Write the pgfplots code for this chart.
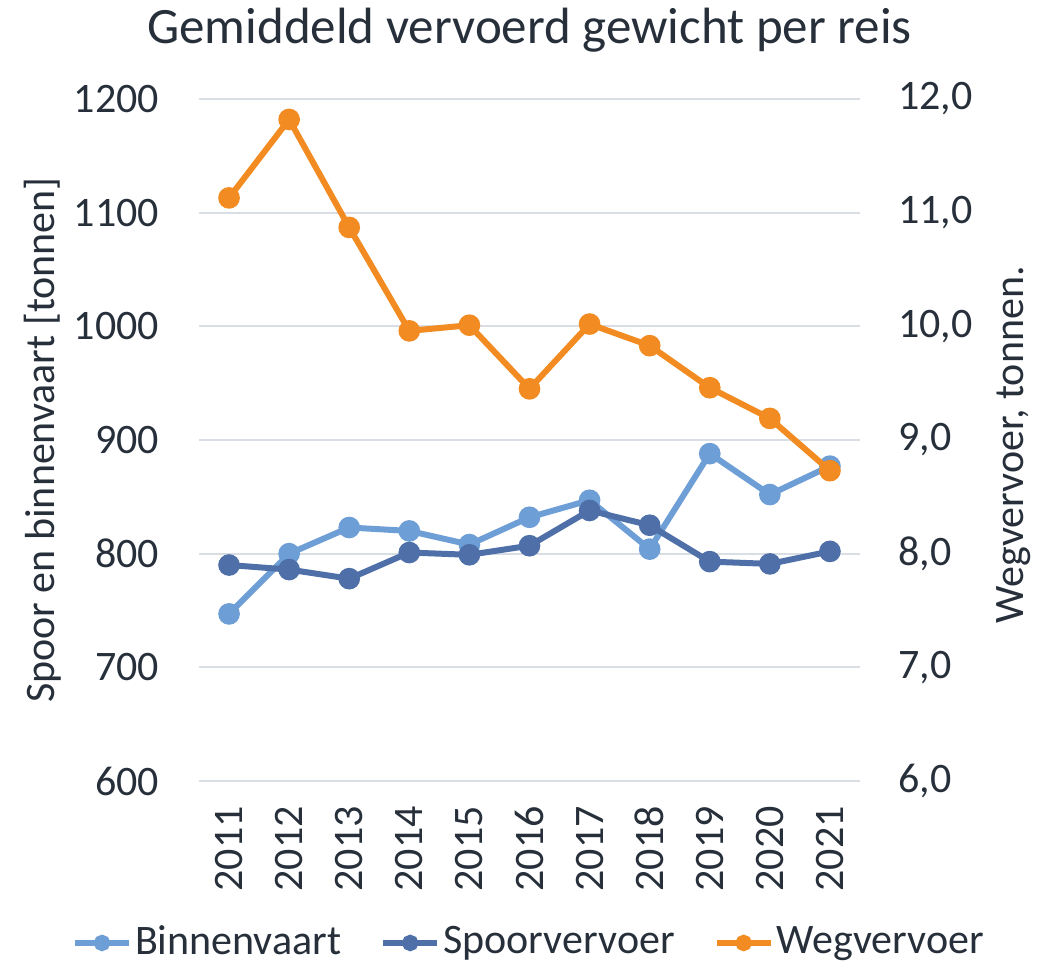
\documentclass[border=0pt]{standalone}
\usepackage{pgfplots}
\pgfplotsset{compat=1.18}
\usepackage{fontspec}
\setmainfont{Carlito}
\definecolor{lb}{HTML}{6E9ED6}
\definecolor{db}{HTML}{4E6FA8}
\definecolor{org}{HTML}{F28C22}
\definecolor{txt}{HTML}{262F3A}
\definecolor{grd}{HTML}{D9DEE4}
\pgfplotsset{
  common/.style={
    scale only axis, width=330.5pt, height=341pt,
    xmin=2010.5, xmax=2021.5,
    axis line style={draw=none}, major tick length=0pt,
    /pgf/number format/assume math mode=true,
    /pgf/number format/1000 sep={},
    tick label style={font=\fontsize{21}{25}\selectfont, text=txt},
    label style={font=\fontsize{21}{25}\selectfont, text=txt},
  },
  ser/.style={line width=3pt, mark=*, mark size=3.9pt, mark options={solid}},
}
\begin{document}
\fontsize{21}{25}\selectfont
\begin{tikzpicture}
\begin{axis}[common, name=ax,
  ymin=600, ymax=1200, ytick={600,700,...,1200},
  xtick={2011,...,2021},
  xticklabel style={yshift=-5.5pt, rotate=90, anchor=east},
  yticklabel style={xshift=-12.8pt},
  ymajorgrids, grid style={grd, line width=1pt},
  ylabel={Spoor en binnenvaart [tonnen]},
  ylabel style={at={(axis description cs:-0.237,0.5)}, anchor=center},
  title={Gemiddeld vervoerd gewicht per reis},
  title style={font=\fontsize{25.5}{30}\selectfont, text=txt, at={(0.5,1)}, anchor=base, yshift=22pt},
  legend style={at={(0.5,-0.2375)}, anchor=center, draw=none, legend columns=3,
    font=\fontsize{21}{25}\selectfont, text=txt,
    nodes={inner xsep=1.5pt},
    /tikz/every even column/.append style={column sep=18pt}},
  legend cell align=left,
  legend image code/.code={\draw[#1, mark size=2.6pt, mark repeat=2, mark phase=2] plot coordinates {(0pt,0pt) (13.5pt,0pt) (27pt,0pt)};},
]
\addplot[ser, color=lb] coordinates {
(2011,747) (2012,800) (2013,823) (2014,820) (2015,808) (2016,832) (2017,847) (2018,804) (2019,888) (2020,852) (2021,877)};
\addlegendentry{Binnenvaart}
\addplot[ser, color=db] coordinates {
(2011,790) (2012,786) (2013,778) (2014,801) (2015,799) (2016,807) (2017,838) (2018,825) (2019,793) (2020,791) (2021,802)};
\addlegendentry{Spoorvervoer}
\addlegendimage{ser, color=org}
\addlegendentry{Wegvervoer}
\end{axis}
\begin{axis}[common,
  ymin=6, ymax=12, ytick={6,7,...,12},
  axis y line*=right, axis x line=none,
  yticklabel style={xshift=12pt, /pgf/number format/.cd, fixed, fixed zerofill, precision=1, use comma},
  ylabel={Wegvervoer, tonnen.},
  ylabel style={at={(axis description cs:1.233,0.4927)}, anchor=center},
]
\addplot[ser, color=org] coordinates {
(2011,11.13) (2012,11.82) (2013,10.87) (2014,9.96) (2015,10.01) (2016,9.45) (2017,10.02) (2018,9.83) (2019,9.46) (2020,9.19) (2021,8.73)};
\end{axis}
\pgfresetboundingbox
\path ([shift={(-99.5pt,-91.5pt)}]ax.south west) rectangle ([shift={(98pt,49.5pt)}]ax.north east);
\end{tikzpicture}
\end{document}
